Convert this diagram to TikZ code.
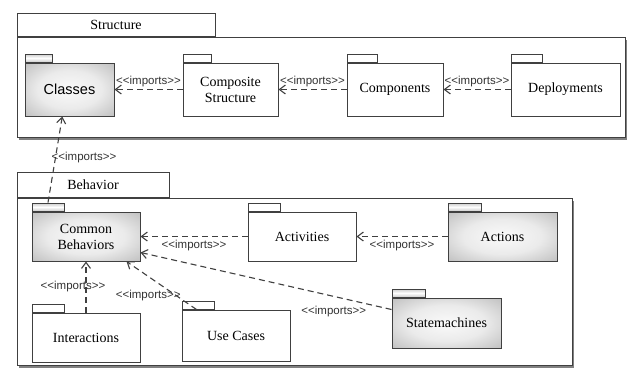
\documentclass[tikz,border=0pt]{standalone}
\usepackage{fontspec}
\setmainfont{Liberation Serif}
\setsansfont{Liberation Sans}
\usetikzlibrary{arrows.meta,shadows,calc}

% soft radial fill: light centre, grey rim
\pgfdeclareradialshading{pkgshade}{\pgfpoint{0bp}{0bp}}{%
  color(0bp)=(black!2); color(18bp)=(black!8); color(36bp)=(black!25);
  color(50bp)=(black!40)}

\newcommand{\imports}{{<}{<}imports{>}{>}}

\tikzset{
  % package body: white box with a thin shadow
  pkg/.style={draw=black!75, line width=1pt, fill=white, inner sep=2pt,
    align=center, font=\fontsize{14}{16}\selectfont,
    drop shadow={shadow xshift=1.2pt, shadow yshift=-1.2pt, fill=black!45, opacity=0.6}},
  graypkg/.style={pkg, shading=pkgshade},
  % folder tab on top of a package
  tab/.style={draw=black!75, line width=1pt, fill=white, inner sep=0pt,
    minimum height=8pt, anchor=south west},
  graytab/.style={tab, top color=gray!40, bottom color=gray!40, middle color=white},
  % large container packages
  frame/.style={draw=black!75, line width=1pt, fill=white, inner sep=0pt,
    drop shadow={shadow xshift=2pt, shadow yshift=-2.5pt, fill=black!70, opacity=0.7}},
  frametab/.style={draw=black!75, line width=1pt, fill=white, inner sep=0pt,
    anchor=south west, font=\fontsize{14}{16}\selectfont},
  % import dependency
  imp/.style={draw=black!75, line width=1.1pt, dash pattern=on 6pt off 4pt,
    -{Straight Barb[length=6pt, width=9pt]}},
  lbl/.style={font=\sffamily\fontsize{11.5}{13}\selectfont, text=black!80, inner sep=1pt},
}

\begin{document}
\begin{tikzpicture}[x=1pt, y=-1pt]
\useasboundingbox (0,0) rectangle (631,367);

% ---- Structure package ----
\node[frame, minimum width=608pt, minimum height=100pt] (structure) at (321,87.5) {};
\node[frametab, minimum width=198pt, minimum height=23pt] (structuretab)
  at (structure.north west) {Structure};

\node[graypkg, minimum width=89pt, minimum height=53pt, font=\sffamily\fontsize{14.5}{16}\selectfont] (cls) at (69.5,89.5) {Classes};
\node[pkg, minimum width=95pt, minimum height=53pt] (cs) at (230.5,89.5) {Composite\\Structure};
\node[pkg, minimum width=96pt, minimum height=53pt] (cmp) at (395,89.5) {Components};
\node[pkg, minimum width=109pt, minimum height=53pt] (dep) at (565.5,89.5) {Deployments};

\node[graytab, minimum width=27pt] (clstab) at (cls.north west) {};
\node[tab, minimum width=28pt] (cstab) at (cs.north west) {};
\node[tab, minimum width=30pt] (cmptab) at (cmp.north west) {};
\node[tab, minimum width=31pt] (deptab) at (dep.north west) {};

% ---- Behavior package ----
\node[frame, minimum width=555pt, minimum height=167pt] (behavior) at (294.5,281.5) {};
\node[frametab, minimum width=152pt, minimum height=25pt] (behaviortab)
  at (behavior.north west) {Behavior};

\node[graypkg, minimum width=108pt, minimum height=49pt] (cb) at (86,236.5) {Common\\Behaviors};
\node[pkg, minimum width=108pt, minimum height=49pt] (act) at (302,236.5) {Activities};
\node[graypkg, minimum width=109pt, minimum height=49pt] (acts) at (502.5,236.5) {Actions};
\node[pkg, minimum width=108pt, minimum height=49pt] (inter) at (86,337.5) {Interactions};
\node[pkg, minimum width=108pt, minimum height=51pt] (uc) at (236,335.5) {Use Cases};
\node[graypkg, minimum width=109pt, minimum height=50pt] (sm) at (446.5,323) {Statemachines};

\node[graytab, minimum width=32pt] (cbtab) at (cb.north west) {};
\node[tab, minimum width=32pt] (acttab) at (act.north west) {};
\node[graytab, minimum width=33pt] (actstab) at (acts.north west) {};
\node[tab, minimum width=32pt] (intertab) at (inter.north west) {};
\node[tab, minimum width=32pt] (uctab) at (uc.north west) {};
\node[graytab, minimum width=33pt] (smtab) at (sm.north west) {};

% ---- dependencies ----
\draw[imp] (cs) -- node[lbl, above=1.5pt] {\imports} (cls);
\draw[imp] (cmp) -- node[lbl, above=1.5pt] {\imports} (cs);
\draw[imp] (dep) -- node[lbl, above=1.5pt] {\imports} (cmp);

\draw[imp] (cbtab.north) -- ($(cls.south west)!0.42!(cls.south east)$);
\node[lbl] (cblbl) at (84,158) {\imports};

\draw[imp] (act) -- node[lbl, below=2pt] {\imports} (cb);
\draw[imp] (acts) -- node[lbl, below=2pt] {\imports} (act);

\draw[imp] ($(sm.north west)+(0,12)$) -- node[lbl, pos=0.23, yshift=-15pt] {\imports}
  ($(cb.south east)+(0,-9)$);
\draw[imp] ($(uc.north west)+(15,0)$) -- node[lbl, pos=0.29, xshift=-28pt] {\imports}
  ($(cb.south east)+(-14,0)$);
\draw[imp] (inter) -- node[lbl, xshift=-13pt] {\imports} (cb);
\end{tikzpicture}
\end{document}
